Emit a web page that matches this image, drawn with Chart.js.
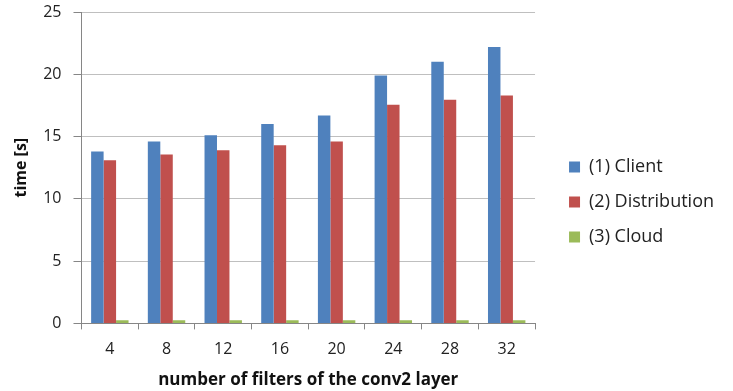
<!DOCTYPE html>
<html>
<head>
<meta charset="utf-8">
<script src="https://cdn.jsdelivr.net/npm/chart.js@4"></script>
<style>
  html, body { margin: 0; padding: 0; background: #fff; }
  #wrap { width: 733px; height: 391px; }
</style>
</head>
<body>
<div id="wrap"><canvas id="chart"></canvas></div>
<script>
// data
const filters = ["4", "8", "12", "16", "20", "24", "28", "32"];
const clientTime = [13.8, 14.6, 15.1, 16.0, 16.7, 19.9, 21.0, 22.2];
const distributionTime = [13.1, 13.55, 13.9, 14.3, 14.6, 17.55, 17.95, 18.3];
const cloudTime = [0.25, 0.25, 0.25, 0.25, 0.25, 0.25, 0.25, 0.25];
const seriesNames = ["(1) Client", "(2) Distribution", "(3) Cloud"];

const font = "'Open Sans', 'DejaVu Sans', sans-serif";

// wider gap between plot and legend, legend block a bit lower
const legendGap = {
  id: "legendGap",
  beforeInit(chart) {
    const fit = chart.legend.fit;
    chart.legend.fit = function() {
      fit.call(this);
      this.width += 18;
    };
  },
  afterLayout(chart) {
    const lg = chart.legend;
    lg.left += 17;
    lg.right += 17;
    lg.top += 7;
    lg.bottom += 7;
  }
};

const ctx = document.getElementById("chart").getContext("2d");
new Chart(ctx, {
  type: "bar",
  data: {
    labels: filters,
    datasets: [
      { label: seriesNames[0], data: clientTime, backgroundColor: "#4F81BD" },
      { label: seriesNames[1], data: distributionTime, backgroundColor: "#C0504D" },
      { label: seriesNames[2], data: cloudTime, backgroundColor: "#9BBB59" }
    ]
  },
  plugins: [legendGap],
  options: {
    responsive: true,
    maintainAspectRatio: false,
    animation: false,
    layout: { padding: { top: 0, right: 8, bottom: 1, left: 8 } },
    datasets: {
      bar: { categoryPercentage: 0.66, barPercentage: 1.0 }
    },
    plugins: {
      tooltip: { enabled: false },
      legend: {
        position: "right",
        labels: {
          font: { family: font, size: 18 },
          color: "#222",
          boxWidth: 11,
          boxHeight: 11,
          padding: 17
        }
      }
    },
    scales: {
      x: {
        grid: {
          offset: true,
          drawOnChartArea: false,
          tickLength: 6,
          color: "#868686"
        },
        border: { color: "#868686" },
        ticks: {
          font: { family: font, size: 16 },
          color: "#222",
          padding: 10
        },
        title: {
          display: true,
          text: "number of filters of the conv2 layer",
          font: { family: font, size: 17, weight: "bold" },
          color: "#111",
          padding: { top: 1, bottom: 0 }
        }
      },
      y: {
        min: 0,
        max: 25,
        afterFit(scale) {
          scale.paddingTop = 12;
        },
        ticks: {
          stepSize: 5,
          font: { family: font, size: 16 },
          color: "#222",
          padding: 12
        },
        grid: {
          color: "#BFBFBF",
          tickLength: 8,
          tickColor: "#868686"
        },
        border: { color: "#868686" },
        title: {
          display: true,
          text: "time [s]",
          font: { family: font, size: 16, weight: "bold" },
          color: "#111",
          padding: { top: 4, bottom: 0 }
        }
      }
    }
  }
});
</script>
</body>
</html>
